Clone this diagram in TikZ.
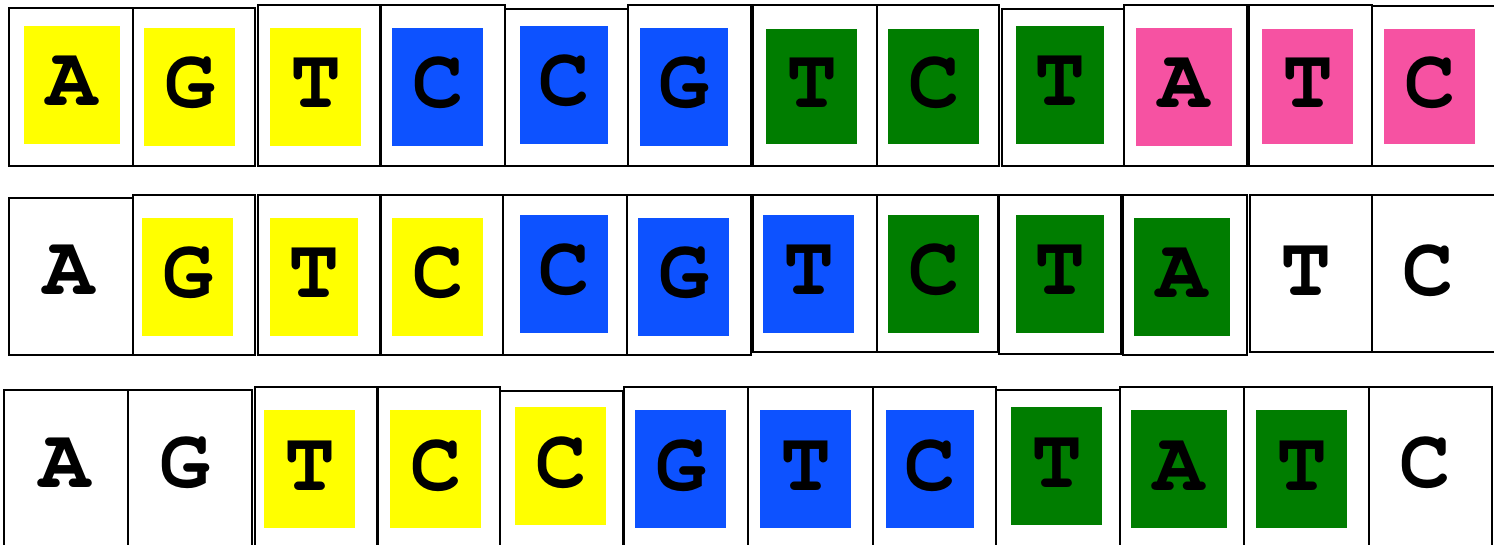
\documentclass[tikz,border=0pt]{standalone}
\usepackage[T1,TU]{fontenc}
\definecolor{yel}{RGB}{255,255,0}
\definecolor{blu}{RGB}{13,82,255}
\definecolor{grn}{RGB}{0,125,0}
\definecolor{pnk}{RGB}{246,82,162}
\tikzset{
  boxline/.style={draw=black,line width=2.4pt},
  letter/.style={anchor=base,inner sep=0pt,text=black,
    font=\fontencoding{T1}\fontfamily{pcr}\fontseries{b}\fontsize{85}{85}\selectfont}
}
\newcommand\bx[4]{\draw[boxline] (#1,#3) rectangle (#2,#4);}
\newcommand\sq[7]{\fill[#1] (#2,#4) rectangle (#3,#5);
  \node[letter] (#7) at ({(#2+#3)/2},{(#4+#5)/2+21}) {#6};}
\newcommand\lt[4]{\node[letter] (#4) at (#1,#2) {#3};}
\begin{document}
\begin{tikzpicture}[x=1pt,y=-1pt]
\useasboundingbox (0,0) rectangle (1494,545);
\clip (0,0) rectangle (1494,545);
\fill[white] (0,0) rectangle (1494,545);
% row 1
\bx{9}{133}{8}{166} \sq{yel}{24}{120}{26}{144}{A}{a1}
\bx{133}{255}{8}{166} \sq{yel}{144}{235}{28}{146}{G}{a2}
\bx{258}{380}{5}{166} \sq{yel}{270}{361}{28}{146}{T}{a3}
\bx{381}{505}{5}{166} \sq{blu}{392}{483}{28}{146}{C}{a4}
\bx{505}{628}{9}{166} \sq{blu}{520}{608}{26}{144}{C}{a5}
\bx{628}{751}{5}{166} \sq{blu}{640}{728}{28}{146}{G}{a6}
\bx{753}{877}{5}{166} \sq{grn}{766}{857}{29}{144}{T}{a7}
\bx{877}{999}{5}{166} \sq{grn}{888}{979}{29}{144}{C}{a8}
\bx{1002}{1124}{9}{166} \sq{grn}{1016}{1104}{26}{144}{T}{a9}
\bx{1124}{1247}{5}{166} \sq{pnk}{1136}{1232}{28}{146}{A}{a10}
\bx{1249}{1372}{5}{166} \sq{pnk}{1262}{1353}{29}{144}{T}{a11}
\bx{1372}{1497}{6}{166} \sq{pnk}{1384}{1475}{29}{144}{C}{a12}
% row 2
\bx{9}{133}{198}{355} \lt{68.5}{295}{A}{b1}
\bx{133}{255}{195}{355} \sq{yel}{142}{233}{218}{336}{G}{b2}
\bx{258}{380}{195}{355} \sq{yel}{270}{358}{218}{336}{T}{b3}
\bx{381}{503}{195}{355} \sq{yel}{392}{483}{218}{336}{C}{b4}
\bx{503}{627}{195}{355} \sq{blu}{520}{608}{215}{333}{C}{b5}
\bx{627}{751}{195}{355} \sq{blu}{638}{729}{218}{336}{G}{b6}
\bx{753}{877}{195}{352} \sq{blu}{763}{854}{215}{333}{T}{b7}
\bx{877}{998}{195}{352} \sq{grn}{888}{979}{215}{333}{C}{b8}
\bx{999}{1121}{195}{354} \sq{grn}{1016}{1104}{215}{333}{T}{b9}
\bx{1123}{1247}{195}{355} \sq{grn}{1134}{1230}{218}{336}{A}{b10}
\bx{1250}{1372}{195}{352} \lt{1306}{296}{T}{b11}
\bx{1372}{1497}{195}{352} \lt{1428}{296}{C}{b12}
% row 3
\bx{4}{128}{390}{552} \lt{65}{487}{A}{c1}
\bx{128}{252}{390}{552} \lt{185}{487}{G}{c2}
\bx{255}{378}{387}{552} \sq{yel}{264}{355}{410}{528}{T}{c3}
\bx{377}{500}{387}{552} \sq{yel}{390}{481}{410}{528}{C}{c4}
\bx{500}{623}{391}{552} \sq{yel}{515}{606}{407}{525}{C}{c5}
\bx{624}{748}{387}{552} \sq{blu}{635}{726}{410}{528}{G}{c6}
\bx{748}{873}{387}{552} \sq{blu}{760}{851}{410}{528}{T}{c7}
\bx{873}{996}{387}{552} \sq{blu}{886}{974}{410}{528}{C}{c8}
\bx{996}{1120}{390}{552} \sq{grn}{1011}{1102}{407}{525}{T}{c9}
\bx{1120}{1244}{387}{552} \sq{grn}{1131}{1227}{410}{528}{A}{c10}
\bx{1244}{1369}{387}{552} \sq{grn}{1256}{1347}{410}{528}{T}{c11}
\bx{1369}{1492}{387}{552} \lt{1425}{487}{C}{c12}
\end{tikzpicture}
\end{document}
